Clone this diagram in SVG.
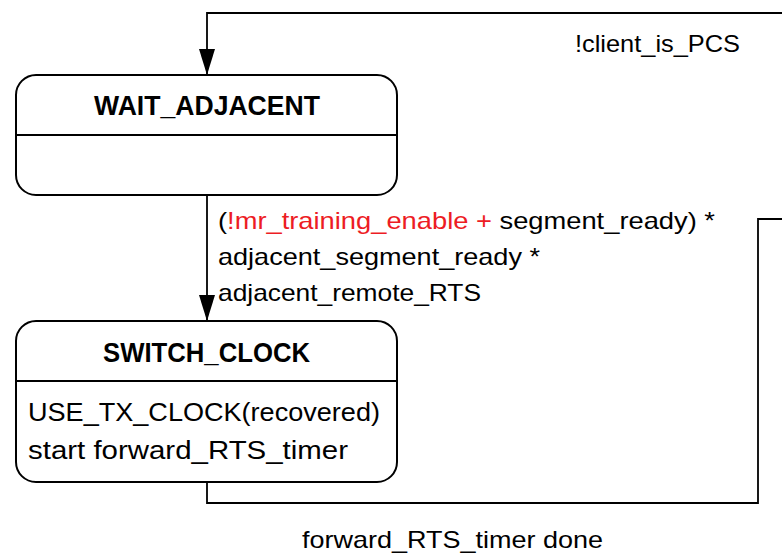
<svg xmlns="http://www.w3.org/2000/svg" width="782" height="554" viewBox="0 0 782 554">
<style>
.box{fill:#fff;stroke:#000;stroke-width:2}
.div{stroke:#000;stroke-width:2}
.title{font-family:"Liberation Sans",Arial,sans-serif;font-weight:bold;font-size:27px;fill:#000}
.body{font-family:"Liberation Sans",Arial,sans-serif;font-size:25px;fill:#000}
.lbl{font-family:"Liberation Sans",Arial,sans-serif;font-size:24px;fill:#000}
.red{fill:#ED1C24}
.conn{fill:none;stroke:#000;stroke-width:1.8}
</style>
<defs>
<marker id="arr" markerWidth="26" markerHeight="16" refX="26" refY="8" orient="auto" markerUnits="userSpaceOnUse" viewBox="0 0 26 16">
<path d="M0,0 L26,8 L0,16 Z" fill="#000"/>
</marker>
</defs>
<rect width="782" height="554" fill="#fff"/>
<g id="connectors">
<path class="conn" d="M782,13 H207 V75" marker-end="url(#arr)"/>
<path class="conn" d="M207,195 V321" marker-end="url(#arr)"/>
<path class="conn" d="M207,482 V503 H758 V219 H782"/>
</g>
<g id="WAIT_ADJACENT">
<rect class="box" x="16" y="75" width="381" height="120" rx="20" ry="20"/>
<line class="div" x1="16" y1="135" x2="397" y2="135"/>
<text class="title" x="207" y="115" text-anchor="middle" textLength="226" lengthAdjust="spacingAndGlyphs">WAIT_ADJACENT</text>
</g>
<g id="SWITCH_CLOCK">
<rect class="box" x="16" y="321" width="381" height="161" rx="20" ry="20"/>
<line class="div" x1="16" y1="381" x2="397" y2="381"/>
<text class="title" x="206.5" y="362" text-anchor="middle" textLength="207" lengthAdjust="spacingAndGlyphs">SWITCH_CLOCK</text>
<text class="body" x="28" y="421" textLength="352" lengthAdjust="spacingAndGlyphs">USE_TX_CLOCK(recovered)</text>
<text class="body" x="28" y="459" textLength="320" lengthAdjust="spacingAndGlyphs">start forward_RTS_timer</text>
</g>
<g id="labels">
<text class="lbl" x="575" y="52" textLength="165" lengthAdjust="spacingAndGlyphs">!client_is_PCS</text>
<text class="lbl" x="218" y="229" textLength="497" lengthAdjust="spacingAndGlyphs">(<tspan class="red">!mr_training_enable +</tspan> segment_ready) *</text>
<text class="lbl" x="218" y="265" textLength="322" lengthAdjust="spacingAndGlyphs">adjacent_segment_ready *</text>
<text class="lbl" x="218" y="301" textLength="263" lengthAdjust="spacingAndGlyphs">adjacent_remote_RTS</text>
<text class="lbl" x="302" y="548" textLength="301" lengthAdjust="spacingAndGlyphs">forward_RTS_timer done</text>
</g>
</svg>
